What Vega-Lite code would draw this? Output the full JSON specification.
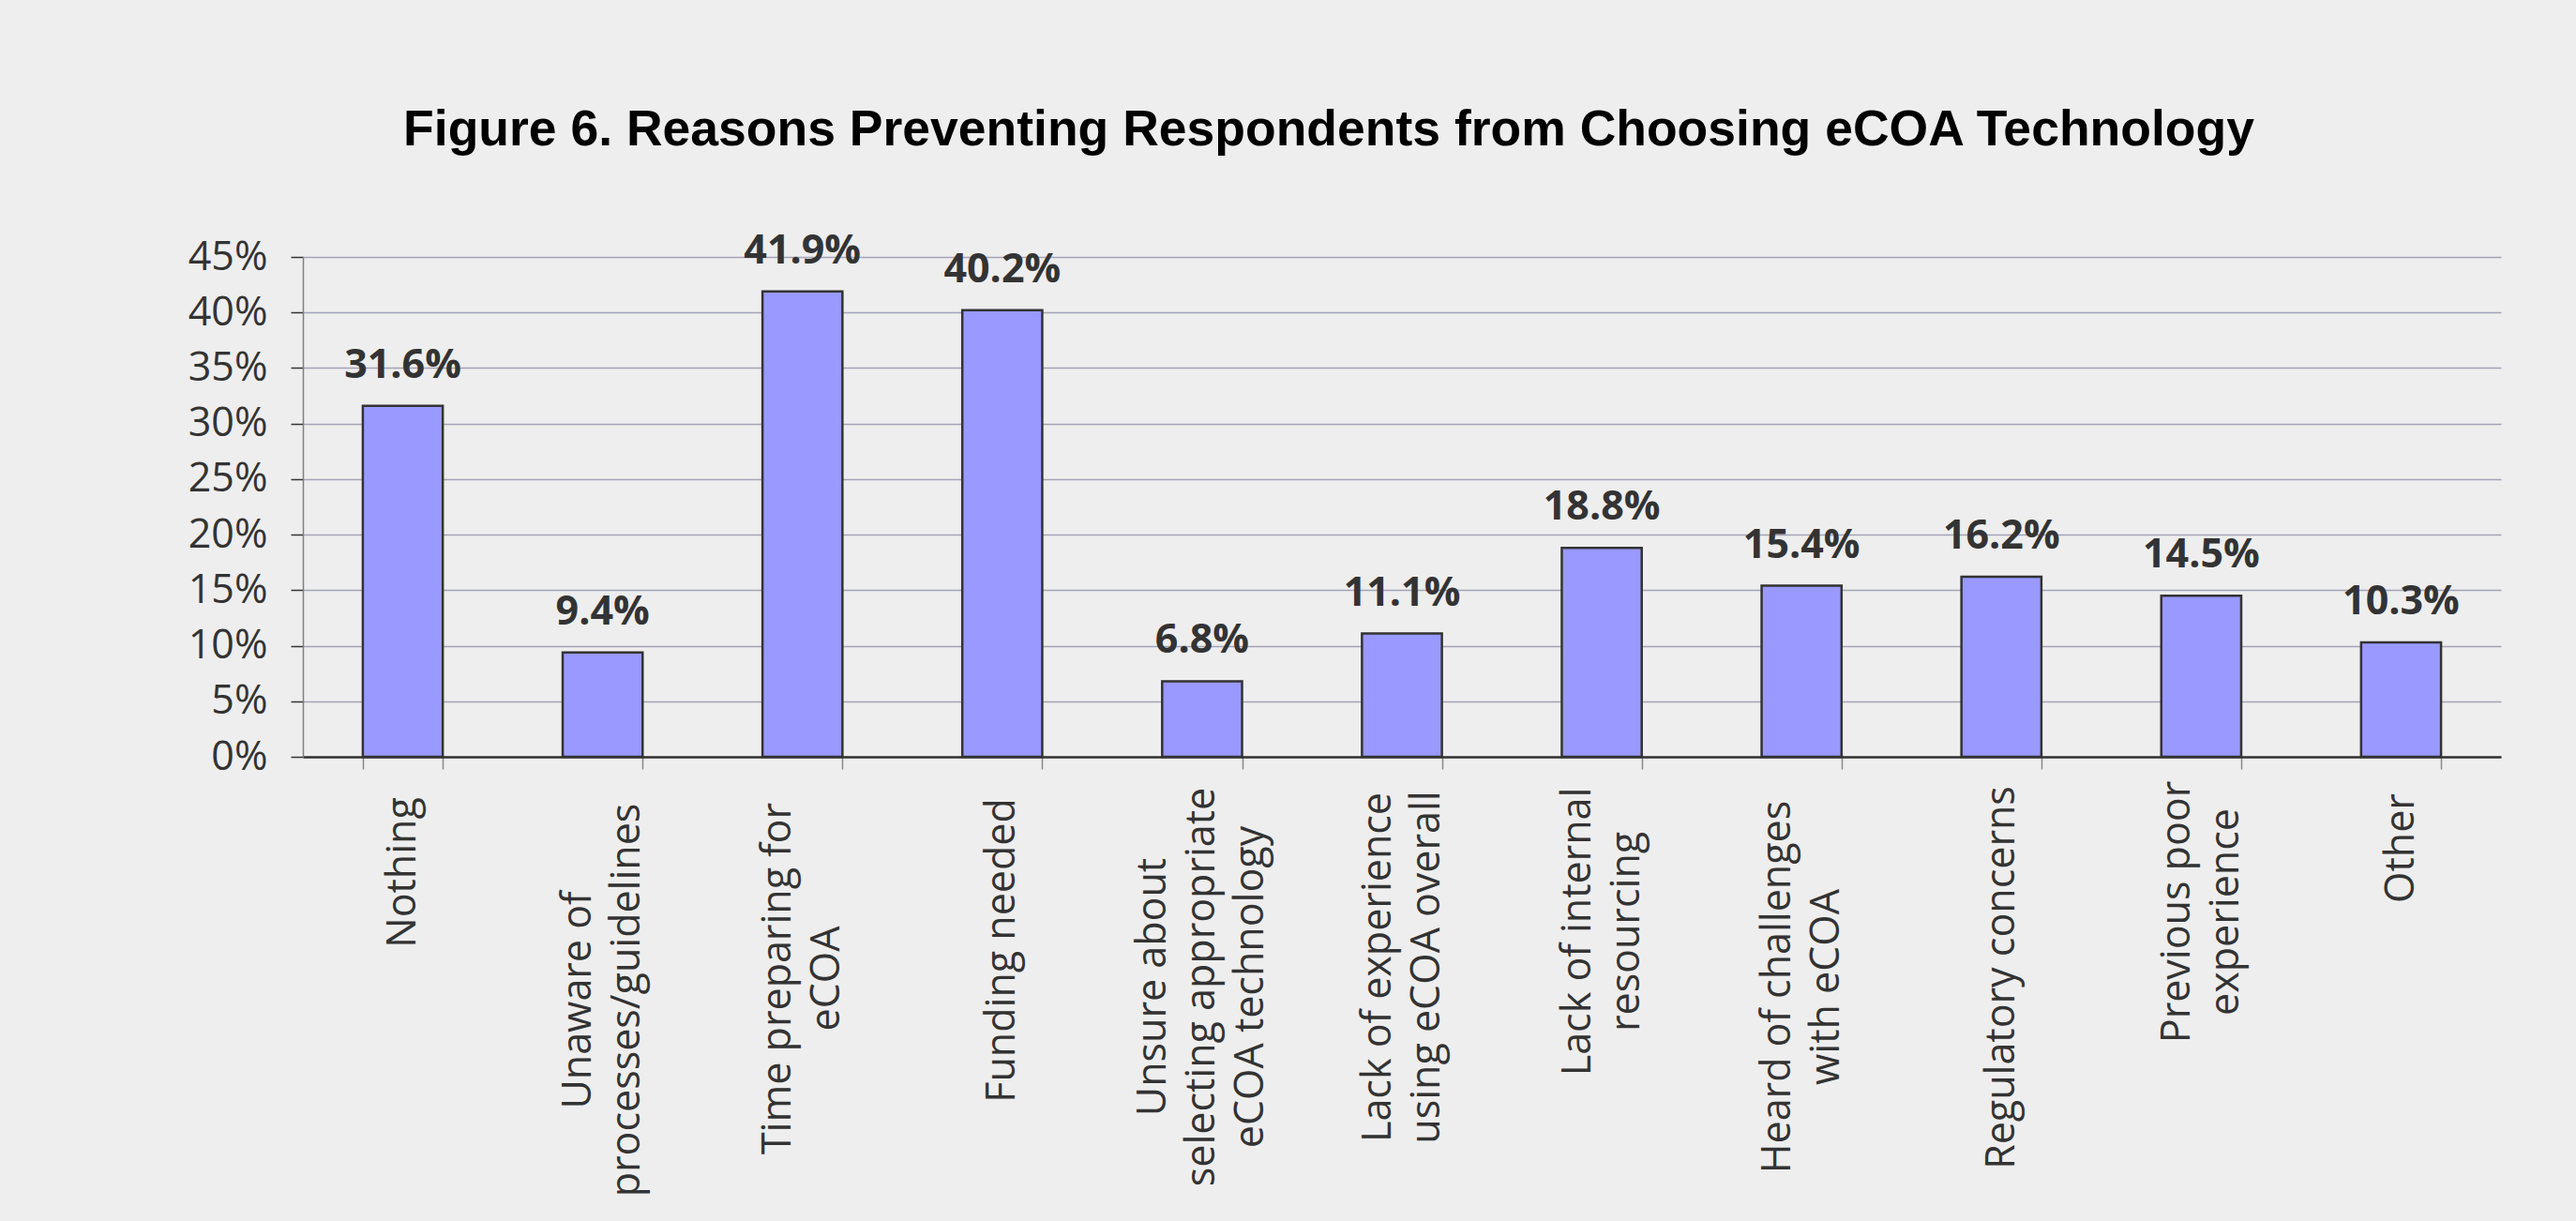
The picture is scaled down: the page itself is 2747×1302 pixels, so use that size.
{
  "$schema": "https://vega.github.io/schema/vega-lite/v6.json",
  "autosize": {"type": "none"},
  "padding": {"left": 323, "top": 274, "right": 80, "bottom": 495},
  "width": 2344,
  "height": 533,
  "background": "#eeeeee",
  "title": {
    "text": "Figure 6. Reasons Preventing Respondents from Choosing eCOA Technology",
    "font": "Liberation Sans",
    "fontSize": 53.5,
    "fontWeight": "bold",
    "color": "#000000",
    "baseline": "alphabetic",
    "offset": 38,
    "dx": -78
  },
  "data": {
    "values": [
      {"reason": "Nothing", "share": 0.316},
      {"reason": "Unaware of|processes/guidelines", "share": 0.094},
      {"reason": "Time preparing for|eCOA", "share": 0.419},
      {"reason": "Funding needed", "share": 0.402},
      {"reason": "Unsure about|selecting appropriate|eCOA technology", "share": 0.068},
      {"reason": "Lack of experience|using eCOA overall", "share": 0.111},
      {"reason": "Lack of internal|resourcing", "share": 0.188},
      {"reason": "Heard of challenges|with eCOA", "share": 0.154},
      {"reason": "Regulatory concerns", "share": 0.162},
      {"reason": "Previous poor|experience", "share": 0.145},
      {"reason": "Other", "share": 0.103}
    ]
  },
  "encoding": {
    "x": {
      "field": "reason",
      "type": "nominal",
      "sort": null,
      "scale": {"paddingInner": 0.6, "paddingOuter": 0.3},
      "axis": {
        "title": null,
        "grid": false,
        "labelAngle": -90,
        "labelAlign": "center",
        "labelBaseline": "middle",
        "labelExpr": "split(datum.label, '|')",
        "labelFont": "Open Sans",
        "labelFontSize": 43,
        "labelColor": "#333333",
        "labelLineHeight": 52,
        "labelLimit": 0,
        "labelOverlap": false,
        "labelOffset": {
          "condition": [
            {"test": "datum.value === 'Nothing' || datum.value === 'Funding needed' || datum.value === 'Regulatory concerns' || datum.value === 'Other'", "value": 0},
            {"test": "datum.value === 'Unsure about|selecting appropriate|eCOA technology'", "value": -52}
          ],
          "value": -26
        },
        "labelPadding": {
          "condition": [
            {"test": "datum.value === 'Nothing'", "value": 110},
            {"test": "datum.value === 'Unaware of|processes/guidelines'", "value": 246},
            {"test": "datum.value === 'Time preparing for|eCOA'", "value": 223},
            {"test": "datum.value === 'Funding needed'", "value": 193},
            {"test": "datum.value === 'Unsure about|selecting appropriate|eCOA technology'", "value": 232},
            {"test": "datum.value === 'Lack of experience|using eCOA overall'", "value": 211},
            {"test": "datum.value === 'Lack of internal|resourcing'", "value": 173},
            {"test": "datum.value === 'Heard of challenges|with eCOA'", "value": 232},
            {"test": "datum.value === 'Regulatory concerns'", "value": 222},
            {"test": "datum.value === 'Previous poor|experience'", "value": 152}
          ],
          "value": 84
        },
        "tickBand": "extent",
        "tickSize": 13,
        "tickColor": "#888888",
        "tickWidth": 1.5,
        "domainColor": "#333333",
        "domainWidth": 2.5
      }
    },
    "y": {
      "field": "share",
      "type": "quantitative",
      "scale": {"domain": [0, 0.45], "nice": false},
      "axis": {
        "title": null,
        "values": [0, 0.05, 0.1, 0.15, 0.2, 0.25, 0.3, 0.35, 0.4, 0.45],
        "format": ".0%",
        "grid": true,
        "gridColor": "#a3a3b8",
        "gridWidth": 1.5,
        "domainColor": "#808080",
        "domainWidth": 1.5,
        "tickColor": "#333333",
        "tickSize": 13,
        "tickWidth": 1.5,
        "labelFont": "Open Sans",
        "labelFontSize": 43,
        "labelColor": "#333333",
        "labelPadding": 25
      }
    }
  },
  "layer": [
    {
      "mark": {"type": "bar", "color": "#9999ff", "stroke": "#333333", "strokeWidth": 2.5}
    },
    {
      "mark": {
        "type": "text",
        "font": "Open Sans",
        "fontSize": 43,
        "fontWeight": "bold",
        "color": "#333333",
        "baseline": "alphabetic",
        "dy": -30
      },
      "encoding": {
        "text": {"field": "share", "type": "quantitative", "format": ".1%"}
      }
    }
  ],
  "config": {"view": {"stroke": null}}
}
